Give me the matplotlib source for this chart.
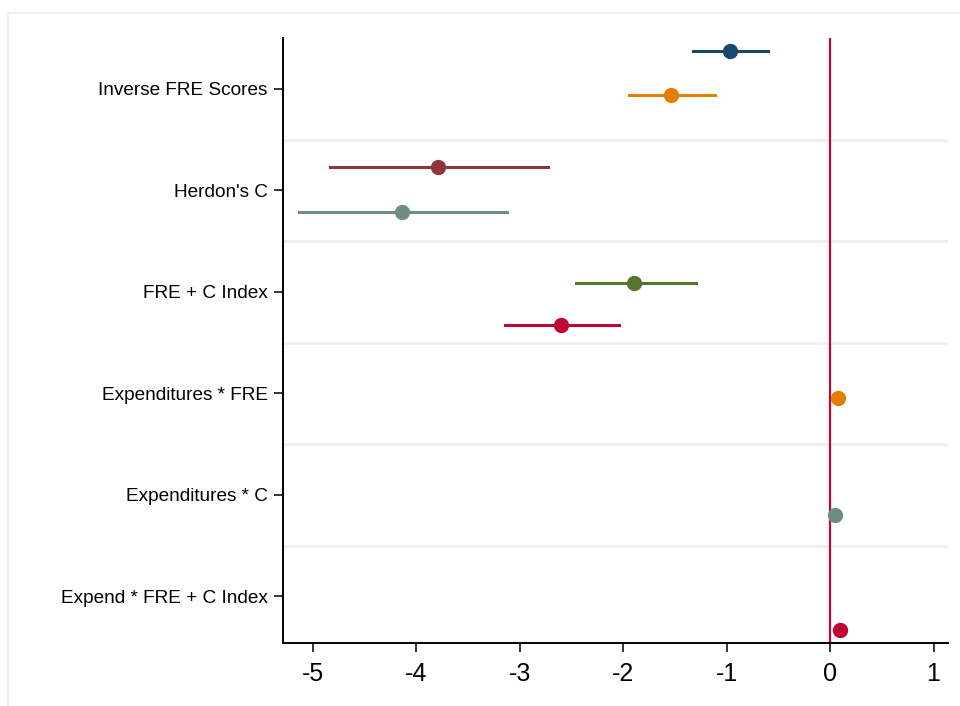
import matplotlib
matplotlib.use('Agg')
import matplotlib.pyplot as plt
from matplotlib.patches import Rectangle

# categories (top to bottom)
categories = ['Inverse FRE Scores', "Herdon's C", 'FRE + C Index',
              'Expenditures * FRE', 'Expenditures * C', 'Expend * FRE + C Index']

# estimates: category index, offset within the row, coef, lower, upper, colour
cat_idx = [0, 0, 1, 1, 2, 2, 3, 4, 5]
row_off = [-0.37, 0.06, -0.23, 0.21, -0.09, 0.33, 0.05, 0.20, 0.33]
coef = [-0.97, -1.54, -3.79, -4.14, -1.90, -2.60, 0.077, 0.05, 0.10]
lower = [-1.33, -1.94, -4.84, -5.14, -2.46, -3.14, 0.07, 0.045, 0.095]
upper = [-0.60, -1.11, -2.73, -3.12, -1.30, -2.04, 0.085, 0.055, 0.105]
colors = ['#1a476f', '#e37e00', '#90353b', '#6e8e84', '#55752f', '#c10534',
          '#e37e00', '#6e8e84', '#c10534']

xticks = [-5, -4, -3, -2, -1, 0, 1]

plt.rcParams['font.family'] = ['Liberation Sans', 'DejaVu Sans']

fig = plt.figure(figsize=(9.6, 7.06), dpi=100)
ax = fig.add_axes([283 / 960, 1 - 643 / 706, (948 - 283) / 960, (643 - 38) / 706])

# faint outer frame
fig.patches.append(Rectangle((7.5 / 960, -0.01), 1.0, 1 - 13 / 706 + 0.01,
                             transform=fig.transFigure, fill=False,
                             edgecolor='#ececec', linewidth=1.2, zorder=0))

# row separators
for k in range(len(categories) - 1):
    ax.axhline(k + 0.5, color='#eaf1f3', linewidth=2, zorder=0)

ax.axvline(0, color='#c10534', linewidth=1.6, zorder=1)

for i in range(len(coef)):
    y = cat_idx[i] + row_off[i]
    ax.plot([lower[i], upper[i]], [y, y], color=colors[i], linewidth=2.2, zorder=2)
    ax.plot(coef[i], y, 'o', color=colors[i], markersize=10, zorder=3)

ax.set_xlim(-5.29, 1.14)
ax.set_ylim(len(categories) - 0.54, -0.5)
ax.set_yticks(range(len(categories)))
ax.set_yticklabels(categories, fontsize=13.7)
ax.set_xticks(xticks)
ax.set_xticklabels([str(t) for t in xticks], fontsize=18)
ax.tick_params(axis='both', length=6.5, width=1.1, color='black')
ax.tick_params(axis='y', pad=4.5)
ax.tick_params(axis='x', pad=7.5)

for side in ['top', 'right']:
    ax.spines[side].set_visible(False)
for side in ['left', 'bottom']:
    ax.spines[side].set_linewidth(1.4)

plt.savefig('out.png', dpi=100)
plt.close()
